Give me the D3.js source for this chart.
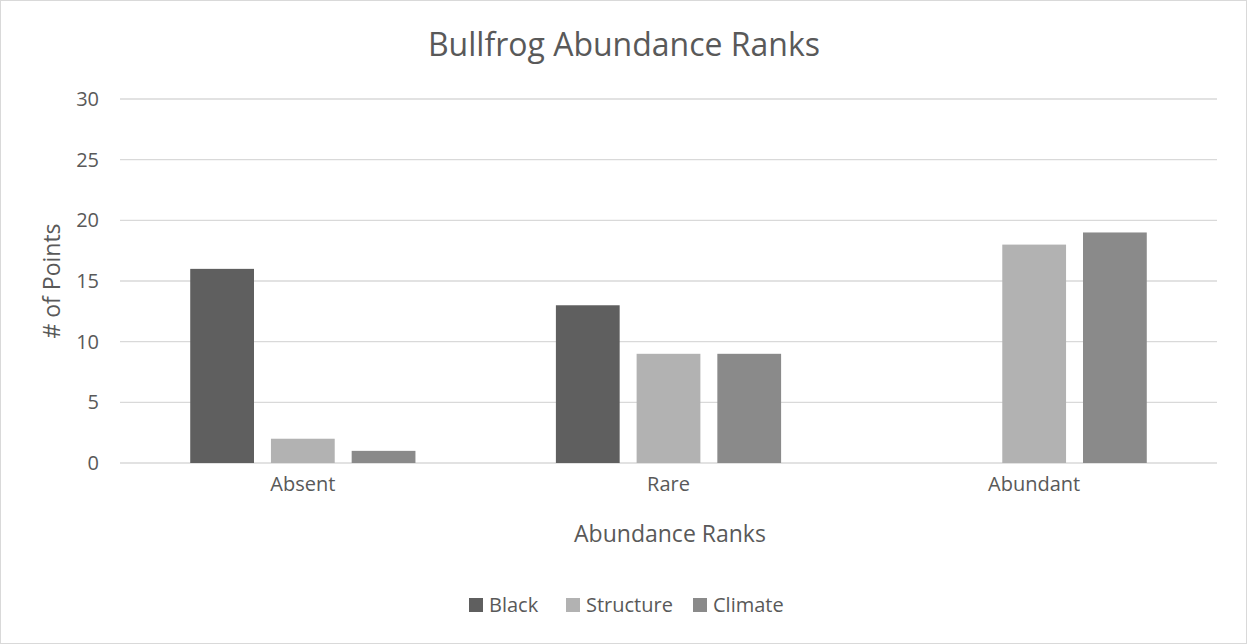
<!DOCTYPE html>
<html lang="en">
<head>
    <meta charset="UTF-8">
    <title>Bullfrog Abundance Ranks</title>
    <script src="https://cdn.jsdelivr.net/npm/d3@7"></script>
    <style>
        body { margin: 0; background: #fff; }
        text { font-family: "Open Sans", sans-serif; fill: #595959; }
    </style>
</head>
<body>
    <script>
        // data
        const categories = ["Absent", "Rare", "Abundant"];
        const seriesNames = ["Black", "Structure", "Climate"];
        const black = [16, 13, 0];
        const structure = [2, 9, 18];
        const climate = [1, 9, 19];
        const yTicks = [0, 5, 10, 15, 20, 25, 30];
        const colors = ["#5f5f5f", "#b2b2b2", "#8a8a8a"];

        const values = [black, structure, climate];

        const width = 1247;
        const height = 644;
        const margin = {top: 99, right: 30, bottom: 180, left: 120};

        var svg = d3.select("body")
            .append("svg")
            .attr("width", width)
            .attr("height", height);

        // chart border
        svg.append("rect")
            .attr("x", 0.5).attr("y", 0.5)
            .attr("width", width - 1).attr("height", height - 1)
            .attr("fill", "#fff")
            .attr("stroke", "#d9d9d9");

        const x0 = d3.scaleBand()
            .domain(categories)
            .range([margin.left, width - margin.right])
            .padding(0);

        const x1 = d3.scaleBand()
            .domain(seriesNames)
            .range([0, x0.bandwidth()])
            .paddingInner(0.21)
            .paddingOuter(0.87);

        const y = d3.scaleLinear()
            .domain([0, 30])
            .range([height - margin.bottom - 1, margin.top]);

        // gridlines
        svg.append("g")
            .selectAll("line")
            .data(yTicks)
            .enter().append("line")
            .attr("x1", margin.left)
            .attr("x2", width - margin.right)
            .attr("y1", d => y(d))
            .attr("y2", d => y(d))
            .attr("stroke", "#d9d9d9")
            .attr("stroke-width", 1.3);

        // y axis labels
        const yAxis = d3.axisLeft(y).tickValues(yTicks).tickSize(0).tickPadding(21);
        const gy = svg.append("g")
            .attr("transform", `translate(${margin.left},0)`)
            .call(yAxis);
        gy.select(".domain").remove();
        gy.selectAll("text")
            .style("font-size", "20px")
            .style("font-family", "'Open Sans', sans-serif")
            .attr("fill", "#595959");

        // x axis labels
        const xAxis = d3.axisBottom(x0).tickSize(0).tickPadding(14);
        const gx = svg.append("g")
            .attr("transform", `translate(0,${y(0)})`)
            .call(xAxis);
        gx.select(".domain").remove();
        gx.selectAll("text")
            .style("font-size", "20px")
            .style("font-family", "'Open Sans', sans-serif")
            .attr("fill", "#595959");

        // bars
        const groups = svg.append("g")
            .selectAll("g")
            .data(categories)
            .enter().append("g")
            .attr("transform", d => `translate(${x0(d)},0)`);

        groups.selectAll("rect")
            .data((c, i) => seriesNames.map((s, j) => ({s: s, v: values[j][i], j: j})))
            .enter().append("rect")
            .attr("x", d => x1(d.s))
            .attr("width", x1.bandwidth())
            .attr("y", d => y(d.v))
            .attr("height", d => y(0) - y(d.v))
            .attr("fill", d => colors[d.j])
            .style("display", d => d.v === 0 ? "none" : null);

        // title
        svg.append("text")
            .attr("x", 624)
            .attr("y", 56)
            .attr("text-anchor", "middle")
            .style("font-size", "32px")
            .text("Bullfrog Abundance Ranks");

        // axis titles
        svg.append("text")
            .attr("x", 670)
            .attr("y", 542)
            .attr("text-anchor", "middle")
            .style("font-size", "23px")
            .text("Abundance Ranks");

        svg.append("text")
            .attr("transform", "translate(60,281) rotate(-90)")
            .attr("text-anchor", "middle")
            .style("font-size", "23px")
            .text("# of Points");

        // legend
        const legendX = [469, 566, 693];
        const legend = svg.append("g")
            .selectAll("g")
            .data(seriesNames)
            .enter().append("g")
            .attr("transform", (d, i) => `translate(${legendX[i]},598)`);
        legend.append("rect")
            .attr("width", 14).attr("height", 14)
            .attr("fill", (d, i) => colors[i]);
        legend.append("text")
            .attr("x", 20)
            .attr("y", 14)
            .style("font-size", "20px")
            .text(d => d);
    </script>
</body>
</html>
